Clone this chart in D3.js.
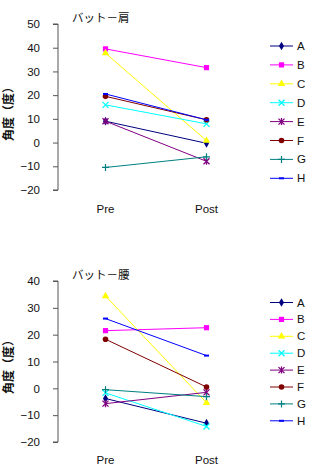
<!DOCTYPE html>
<meta charset="utf-8">
<style>
body { margin: 0; background: #fff; }
svg text { font-family: "Liberation Sans", Arial, sans-serif; fill: #111; }
.jp { font-family: "Noto Sans CJK JP", sans-serif; }
.axis path, .axis line { stroke: #555; }
</style>
<svg width="310" height="470"></svg>
<script src="https://d3js.org/d3.v7.min.js"></script>
<script>

var names = ["A", "B", "C", "D", "E", "F", "G", "H"];
var phases = ["Pre", "Post"];
var colors = ["#000080", "#ff00ff", "#ffff00", "#00ffff", "#800080", "#800000", "#008080", "#0000ff"];

// バット－肩
var shoulderPre  = [9, 39.5, 37.7, 15.9, 9, 19.5, -10.5, 20.5];
var shoulderPost = [-0.3, 31.6, 0.8, 7.9, -7.9, 9.6, -6, 9.6];
var shoulderTicks = [50, 40, 30, 20, 10, 0, -10, -20];

// バット－腰
var waistPre  = [-3.8, 21.5, 34.4, -1.7, -5.7, 18.3, -0.5, 26];
var waistPost = [-13, 22.6, -5.4, -14.2, -1.5, 0.5, -3.1, 12.2];
var waistTicks = [40, 30, 20, 10, 0, -10, -20];

var svg = d3.select("svg");

function marker(g, i, c) {
  var s = 2.6;
  if (i == 0) g.append("path").attr("d", d3.symbol(d3.symbolDiamond, 22)()).attr("fill", c);
  else if (i == 1) g.append("rect").attr("x", -s).attr("y", -s).attr("width", 2 * s).attr("height", 2 * s).attr("fill", c);
  else if (i == 2) g.append("path").attr("d", d3.symbol(d3.symbolTriangle, 24)()).attr("fill", c);
  else if (i == 3) g.append("path").attr("d", "M-3,-3L3,3M-3,3L3,-3").attr("stroke", c).attr("stroke-width", 1.3);
  else if (i == 4) g.append("path").attr("d", "M-3,-3L3,3M-3,3L3,-3M0,-3.5L0,3.5").attr("stroke", c).attr("stroke-width", 1.3);
  else if (i == 5) g.append("circle").attr("r", 2.8).attr("fill", c);
  else if (i == 6) g.append("path").attr("d", "M-3.5,0L3.5,0M0,-3.5L0,3.5").attr("stroke", c).attr("stroke-width", 1.2);
  else g.append("path").attr("d", "M-2.5,0L2.5,0").attr("stroke", c).attr("stroke-width", 2);
}

function drawChart(opt) {
  var y = d3.scaleLinear().domain([d3.min(opt.ticks), d3.max(opt.ticks)]).range([opt.bottom, opt.top]);
  var x = d3.scalePoint().domain(phases).range([105.5, 206.5]);

  var g = svg.append("g");

  g.append("g")
      .attr("class", "axis")
      .attr("transform", "translate(58,0)")
      .call(d3.axisLeft(y).tickValues(opt.ticks).tickSize(5).tickPadding(13).tickFormat(d3.format("d")))
      .call(function(a) {
        a.select(".domain").attr("d", "M-5," + y(d3.max(opt.ticks)) + "H0V" + y(d3.min(opt.ticks)) + "H-5");
        a.selectAll("text").attr("font-size", 11.5).attr("font-family", "Liberation Sans, Arial, sans-serif").attr("fill", "#111");
      });

  g.selectAll(".xl")
      .data(phases)
    .enter().append("text")
      .attr("x", function(d) { return x(d); })
      .attr("y", opt.labelY)
      .attr("text-anchor", "middle")
      .attr("font-size", 11.5)
      .text(function(d) { return d; });

  g.append("text")
      .attr("class", "jp")
      .attr("x", 72)
      .attr("y", opt.titleY)
      .attr("font-size", 11.5)
      .text(opt.title);

  g.append("text")
      .attr("class", "jp")
      .attr("transform", "translate(13," + opt.ylabY + ") rotate(-90)")
      .attr("text-anchor", "middle")
      .attr("font-size", 12)
      .attr("font-weight", "bold")
      .text("角度（度）");

  names.forEach(function(n, i) {
    var vals = [opt.pre[i], opt.post[i]];
    g.append("line")
        .attr("x1", x("Pre")).attr("y1", y(vals[0]))
        .attr("x2", x("Post")).attr("y2", y(vals[1]))
        .attr("stroke", colors[i]).attr("stroke-width", 1);
    vals.forEach(function(v, j) {
      marker(g.append("g").attr("transform", "translate(" + x(phases[j]) + "," + y(v) + ")"), i, colors[i]);
    });

    var ly = opt.legTop + i * opt.legStep;
    g.append("line")
        .attr("x1", 270).attr("x2", 293).attr("y1", ly).attr("y2", ly)
        .attr("stroke", colors[i]).attr("stroke-width", 1);
    marker(g.append("g").attr("transform", "translate(281.5," + ly + ")"), i, colors[i]);
    g.append("text")
        .attr("x", 297).attr("y", ly + 4)
        .attr("font-size", 11.5)
        .text(n);
  });
}

drawChart({title: "バット－肩", ticks: shoulderTicks, pre: shoulderPre, post: shoulderPost,
  top: 24, bottom: 190, labelY: 213, titleY: 22, ylabY: 111, legTop: 46, legStep: 18.9});

drawChart({title: "バット－腰", ticks: waistTicks, pre: waistPre, post: waistPost,
  top: 281, bottom: 442, labelY: 464, titleY: 279, ylabY: 364, legTop: 302.5, legStep: 16.9});

</script>
